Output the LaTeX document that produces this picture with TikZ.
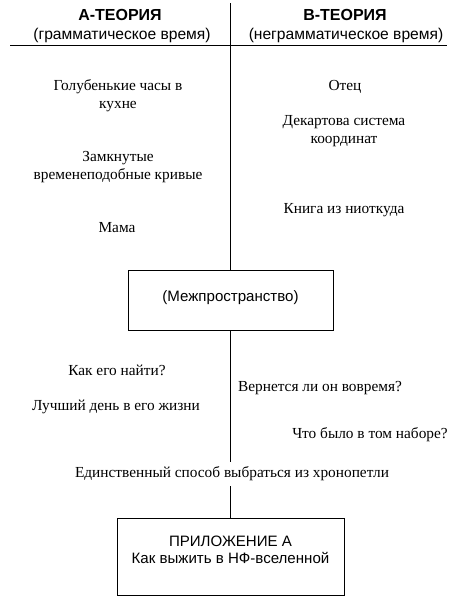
\documentclass[tikz,border=0pt]{standalone}
\usepackage{fontspec}
\setmainfont{Liberation Serif}
\newfontfamily\hdrfont{Liberation Sans}
\begin{document}
\begin{tikzpicture}[x=0.75pt,y=-0.75pt,
  every node/.style={inner sep=0pt,outer sep=0pt},
  item/.style={align=center,font=\fontsize{11.5}{13.5}\selectfont},
  hdr/.style={align=center,font=\hdrfont\bfseries\fontsize{12}{14}\selectfont},
  sub/.style={align=center,font=\hdrfont\fontsize{11.7}{14}\selectfont},
  boxed/.style={draw,line width=0.7pt,align=center,font=\hdrfont\fontsize{11.3}{13}\selectfont},
  rule/.style={line width=0.6pt}]
\useasboundingbox (0,0) rectangle (450,601);
% headers
\node[hdr] (ha) at (120,15) {А-ТЕОРИЯ};
\node[sub] (sa) at (122,35) {(грамматическое время)};
\node[hdr] (hb) at (345,15) {В-ТЕОРИЯ};
\node[sub] (sb) at (346,35) {(неграмматическое время)};
\coordinate (hl) at (10,45);
\coordinate (hr) at (447,45);
\draw[rule] (hl) -- (hr);
% left column
\node[item] (a1) at (118,96) {Голубенькие часы в\\кухне};
\node[item] (a2) at (118,167) {Замкнутые\\временеподобные кривые};
\node[item] (a3) at (117,228) {Мама};
% right column
\node[item] (b1) at (345,87) {Отец};
\node[item] (b2) at (344,131) {Декартова система\\координат};
\node[item] (b3) at (344,210) {Книга из ниоткуда};
% middle box
\node[boxed,minimum width=153.75pt,minimum height=45pt,text depth=6pt] (m) at (230.5,300) {(Межпространство)};
% lower items
\node[item] (c1) at (117,370) {Как его найти?};
\node[item] (c2) at (116,407) {Лучший день в его жизни};
\node[item] (d1) at (320,388) {Вернется ли он вовремя?};
\node[item] (d2) at (370,435) {Что было в том наборе?};
\node[item,inner ysep=4pt] (e) at (232,474) {Единственный способ выбраться из хронопетли};
% appendix box
\node[boxed,minimum width=170.25pt,minimum height=57.75pt,text depth=10pt] (app) at (230.5,556.5) {ПРИЛОЖЕНИЕ А\\Как выжить в НФ-вселенной};
% spine
\coordinate (top) at (230.5,3);
\draw[rule] (top) -- (m.north);
\draw[rule] (m.south) -- (m.south |- e.north);
\draw[rule] (app.north |- e.south) -- (app.north);
\end{tikzpicture}
\end{document}
